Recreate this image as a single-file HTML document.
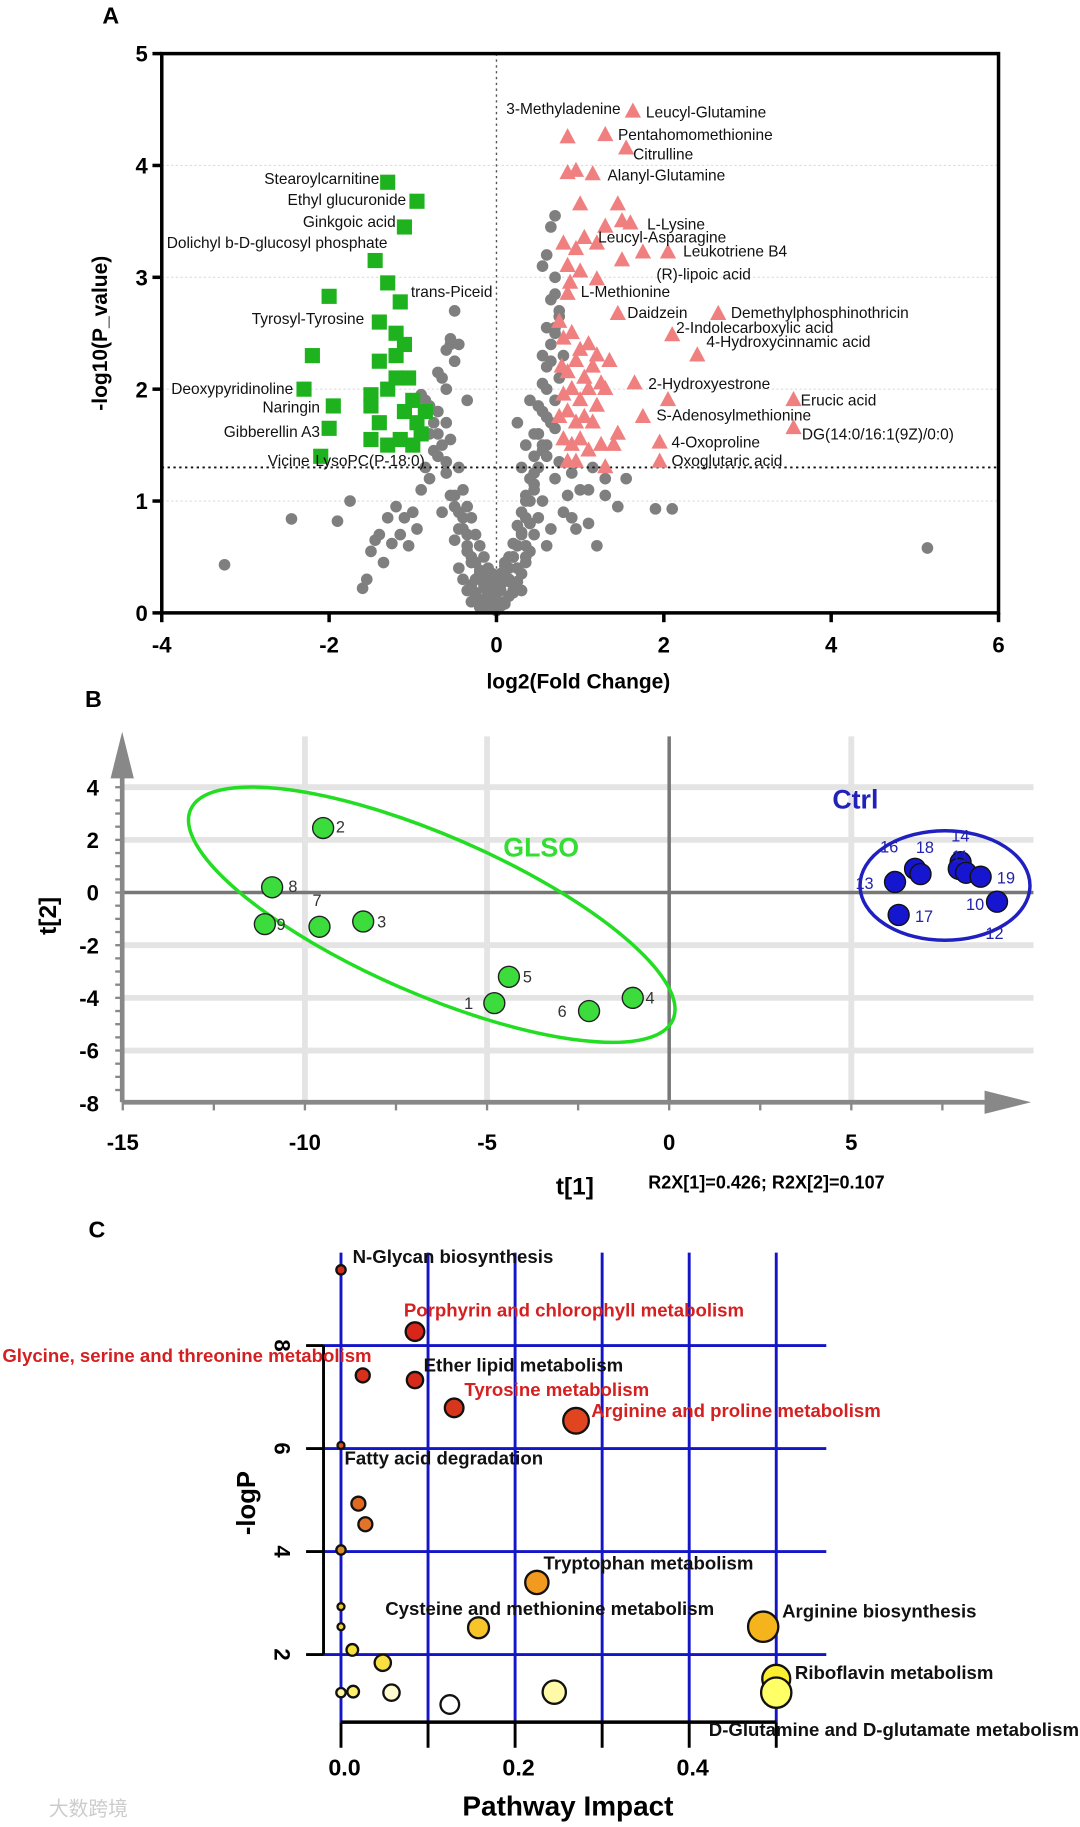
<!DOCTYPE html>
<html><head><meta charset="utf-8"><style>
html,body{margin:0;padding:0;background:#fff}
svg{display:block}
text{font-family:"Liberation Sans",sans-serif}
</style></head><body>
<svg id="fig" width="1080" height="1827" viewBox="0 0 928 1568" preserveAspectRatio="none" xmlns="http://www.w3.org/2000/svg">
<rect width="928" height="1568" fill="#fff"/>
<g id="A"></g>
<g id="B"></g>
<g id="C"></g>
</svg>
<script>
// ---------- Panel A data ----------
const grayX=[-3.25,-2.45,-1.9,-1.75,-1.6,-1.55,-1.5,-1.45,-1.4,-1.35,-1.3,-1.25,-1.2,-1.15,-1.1,-1.05,-1.0,-0.95,-0.9,-0.85,-0.8,-0.75,-0.7,-0.65,-0.6,-0.55,-0.5,-0.45,-0.4,-0.35,-0.3,-0.25,-0.2,-0.15,-0.1,-0.05,0,0.05,0.1,0.15,0.2,0.25,0.3,0.35,0.4,0.45,0.5,0.55,0.6,0.65,0.7,0.75,0.8,0.85,0.9,0.95,1.0,1.1,1.2,1.3,1.45,1.55,1.9,2.1,5.15,
-0.6,-0.7,-0.55,-0.45,-0.5,-0.4,-0.35,-0.3,-0.25,-0.2,-0.15,-0.1,-0.05,0.05,0.1,0.15,0.2,0.25,0.3,0.35,0.4,0.45,0.5,0.55,0.6,0.65,0.7,0.75,
-0.8,-0.7,-0.6,-0.5,-0.45,-0.4,-0.35,-0.3,-0.25,-0.2,-0.15,-0.1,-0.05,0.0,0.05,0.1,0.15,0.2,0.25,0.3,0.35,0.4,0.45,0.5,0.55,0.6,
-0.3,-0.2,-0.1,0,0.1,0.2,0.3,-0.25,-0.15,-0.05,0.05,0.15,0.25,-0.35,0.35,-0.4,0.4,
0.3,0.35,0.45,0.5,0.55,0.6,0.65,0.7,0.75,-0.65,-0.55,-0.5,-0.45,-0.35,0.25,0.4,0.55,0.65,0.7,
0.55,0.6,0.65,0.7,-0.55,-0.6,-0.7,-0.8,0.6,0.7,1.15,0.9,1.1,1.3,
-0.25,-0.15,-0.05,0.05,0.15,0.25,0.35,-0.3,-0.2,-0.1,0.0,0.1,0.2,0.3,0.4,0.45,0.5,0.55,-0.35,-0.45,-0.5,-0.6,0.35,0.45,0.6,0.65,0.7,0.75,0.8,-0.65,-0.75,-0.85,-0.9,0.5,0.6,0.7];
const grayY=[0.43,0.84,0.82,1.0,0.22,0.3,0.55,0.65,0.7,0.45,0.85,0.62,0.95,0.7,0.85,0.6,0.9,0.75,1.1,1.3,1.2,1.45,1.6,0.9,1.7,1.05,0.65,0.4,0.3,0.2,0.25,0.15,0.1,0.12,0.05,0.08,0.02,0.06,0.1,0.15,0.2,0.28,0.35,0.45,0.55,0.7,0.85,1.0,0.6,0.75,1.2,1.35,0.9,1.05,0.85,0.75,1.1,0.8,0.6,1.2,0.95,1.2,0.93,0.93,0.58,
2.0,1.8,1.55,1.3,2.25,1.1,0.95,0.85,0.7,0.6,0.5,0.4,0.3,0.35,0.45,0.5,0.62,0.78,0.9,1.05,1.2,1.4,1.6,1.8,2.0,2.25,2.5,2.65,
1.6,1.4,1.25,1.05,0.9,0.75,0.6,0.5,0.45,0.35,0.3,0.25,0.2,0.22,0.25,0.32,0.4,0.5,0.6,0.72,0.85,1.0,1.15,1.3,1.5,1.75,
0.1,0.05,0.15,0.12,0.08,0.18,0.2,0.3,0.25,0.35,0.3,0.28,0.4,0.55,0.5,0.85,0.8,
1.3,1.5,1.6,1.85,2.05,2.2,2.4,2.55,2.7,2.1,2.4,2.7,2.4,1.9,1.7,1.9,2.3,2.8,3.0,
3.1,3.2,3.45,3.55,2.45,2.35,2.15,1.85,2.55,2.85,1.3,1.25,1.1,1.05,
0.18,0.22,0.25,0.2,0.3,0.4,0.6,0.45,0.38,0.35,0.32,0.42,0.5,0.7,0.8,1.1,1.3,1.45,0.7,0.75,0.95,1.35,1.0,1.25,1.5,1.7,1.9,2.1,2.3,1.5,1.7,1.9,1.95,1.6,1.4,1.65];
const downX=[-1.3,-0.95,-1.1,-1.45,-1.3,-1.15,-2.0,-1.4,-1.2,-2.2,-2.3,-1.95,-2.0,-2.1,-1.5,-1.4,-1.5,-1.4,-1.2,-1.05,-1.0,-0.95,-1.3,-1.15,-0.85,-1.0,-1.3,-1.5,-1.1,-1.2,-0.9,-1.1];
const downY=[3.85,3.68,3.45,3.15,2.95,2.78,2.83,2.6,2.5,2.3,2.0,1.85,1.65,1.4,1.55,1.7,1.95,2.25,2.3,2.1,1.9,1.7,1.5,1.55,1.8,1.5,2.0,1.85,2.4,2.1,1.6,1.8];
const upX=[1.63,0.85,1.3,1.55,0.85,1.15,0.95,1.0,1.45,1.5,1.3,1.6,1.05,0.8,0.95,1.2,1.75,2.05,1.5,0.85,1.0,1.2,0.88,0.85,1.45,2.65,2.1,2.4,1.65,2.05,3.55,1.75,3.55,1.95,1.95,
0.75,0.8,0.9,1.0,1.1,1.2,0.78,0.85,0.95,1.05,1.15,1.25,1.35,0.8,0.9,1.0,1.1,1.2,1.3,0.75,0.85,0.95,1.05,1.15,1.45,0.8,0.9,1.0,1.1,1.25,1.4,0.85,0.95,1.3];
const upY=[4.48,4.25,4.27,4.15,3.93,3.92,3.95,3.65,3.65,3.5,3.45,3.48,3.35,3.3,3.25,3.3,3.22,3.22,3.15,3.1,3.05,2.98,2.95,2.85,2.67,2.67,2.48,2.3,2.05,1.9,1.9,1.75,1.65,1.52,1.35,
2.6,2.45,2.5,2.35,2.4,2.3,2.2,2.15,2.25,2.1,2.2,2.05,2.25,1.95,2.0,1.9,2.0,1.85,2.0,1.75,1.8,1.7,1.75,1.7,1.6,1.55,1.5,1.55,1.45,1.5,1.5,1.35,1.35,1.3];
const upLabels=[["Leucyl-Glutamine",555,97],["3-Methyladenine",435,94],["Pentahomomethionine",531,116],["Citrulline",544,133],["Alanyl-Glutamine",522,151],["L-Lysine",556,193],["Leucyl-Asparagine",514,204],["Leukotriene B4",587,216],["(R)-lipoic acid",564,236],["L-Methionine",499,251],["Daidzein",539,269],["Demethylphosphinothricin",628,269],["2-Indolecarboxylic acid",581,282],["4-Hydroxycinnamic acid",607,294],["2-Hydroxyestrone",557,330],["Erucic acid",688,344],["S-Adenosylmethionine",564,357],["DG(14:0/16:1(9Z)/0:0)",689,373],["4-Oxoproline",577,380],["Oxoglutaric acid",577,396],["trans-Piceid",353,251],["LysoPC(P-18:0)",271,396]];
const downLabels=[["Stearoylcarnitine",326,154],["Ethyl glucuronide",349,172],["Ginkgoic acid",340,191],["Dolichyl b-D-glucosyl phosphate",333,209],["Tyrosyl-Tyrosine",313,274],["Deoxypyridinoline",252,334],["Naringin",275,350],["Gibberellin A3",275,371],["Vicine",266,396]];
const aXTicks=[-4,-2,0,2,4,6];
const aYTicks=[0,1,2,3,4,5];
// ---------- Panel B data ----------
const glsoIds=["2","8","9","7","3","5","1","6","4"];
const glsoT1=[-9.5,-10.9,-11.1,-9.6,-8.4,-4.4,-4.8,-2.2,-1.0];
const glsoT2=[2.45,0.2,-1.2,-1.3,-1.1,-3.2,-4.2,-4.5,-4.0];
const ctrlIds=["13","16","18","14","11","10","19","12","17"];
const ctrlT1=[6.2,6.75,6.9,8.0,7.95,8.15,8.55,9.0,6.3];
const ctrlT2=[0.4,0.9,0.7,1.15,0.9,0.75,0.6,-0.35,-0.85];
const bXTicks=[-15,-10,-5,0,5];
const bYTicks=[4,2,0,-2,-4,-6,-8];
// ---------- Panel C data ----------
const pwNames=["N-Glycan biosynthesis","Porphyrin and chlorophyll metabolism","Glycine, serine and threonine metabolism","Ether lipid metabolism","Tyrosine metabolism","Arginine and proline metabolism","Fatty acid degradation","","","","Tryptophan metabolism","","","Cysteine and methionine metabolism","Arginine biosynthesis","","","","","","","","Riboflavin metabolism","D-Glutamine and D-glutamate metabolism"];
const pwImpact=[0.0,0.085,0.025,0.085,0.13,0.27,0.0,0.02,0.028,0.0,0.225,0.0,0.0,0.158,0.485,0.013,0.048,0.0,0.014,0.058,0.125,0.245,0.5,0.5];
const pwLogP=[9.47,8.27,7.42,7.33,6.79,6.54,6.06,4.93,4.53,4.03,3.4,2.93,2.54,2.52,2.54,2.09,1.84,1.26,1.28,1.26,1.03,1.27,1.53,1.26];
const pwSize=[4,8,6,7,8,11,3,6,6,4,10,3,3,9,13,5,7,4,5,7,8,10,12,13];
const pwColor=["#d42a1a","#d9261a","#d9301c","#d52c1a","#d8361c","#e0451f","#d9531e","#e06a22","#e2742a","#d98b2d","#f29a1f","#f2c72a","#f2d43a","#f7c52a","#f5b31c","#f5e23a","#f7e040","#fff6a0","#fff06a","#fffbd0","#ffffff","#fffaa8","#fbef30","#ffff66"];
const cXTicks=[0.0,0.2,0.4];
const cYTicks=[2,4,6,8];
</script>
<script>
const NS="http://www.w3.org/2000/svg";
function mk(parent,tag,attrs,txt){const e=document.createElementNS(NS,tag);for(const k in attrs)e.setAttribute(k,attrs[k]);if(txt!==undefined)e.textContent=txt;parent.appendChild(e);return e;}
// ===== Panel A =====
const A=document.getElementById('A');
const ax=v=>139+(v+4)*(858-139)/10, ay=v=>526-v*96;
let t=mk(A,'text',{x:88,y:20,'font-size':20,'font-weight':'bold'},'A');


aYTicks.forEach(v=>{if(v>0&&v<5){mk(A,'line',{x1:139,x2:858,y1:ay(v),y2:ay(v),stroke:'#ddd','stroke-dasharray':'2,2'});}});
let ln=mk(A,'line',{x1:ax(0),x2:ax(0),y1:46,y2:526,stroke:'#555','stroke-dasharray':'2,3','stroke-width':1.2});


for(let i=0;i<grayX.length;i++){const c=mk(A,'circle',{cx:ax(grayX[i]),cy:ay(grayY[i]),r:5,fill:'#7f7f7f'});

}
ln=mk(A,'line',{x1:139,x2:858,y1:ay(1.3),y2:ay(1.3),stroke:'#111','stroke-dasharray':'2,3','stroke-width':1.6});


for(let i=0;i<downX.length;i++){const r=mk(A,'rect',{x:ax(downX[i])-6.5,y:ay(downY[i])-6.5,width:13,height:13,fill:'#1fb21f'});

}
for(let i=0;i<upX.length;i++){const x=ax(upX[i]),y=ay(upY[i]);const p=mk(A,'polygon',{points:`${x},${y-8} ${x-7},${y+5} ${x+7},${y+5}`,fill:'#f08080'});

}
upLabels.forEach(l=>{const e=mk(A,'text',{x:l[1],y:l[2]+4,'font-size':13.3,fill:'#111'},l[0]);

});
downLabels.forEach(l=>{const e=mk(A,'text',{x:l[1],y:l[2]+4,'font-size':13.3,fill:'#111','text-anchor':'end'},l[0]);

});
let fr=mk(A,'rect',{x:139,y:46,width:719,height:480,fill:'none',stroke:'#000','stroke-width':3});


aXTicks.forEach(v=>{mk(A,'line',{x1:ax(v),x2:ax(v),y1:526,y2:534,stroke:'#000','stroke-width':3});
const e=mk(A,'text',{x:ax(v),y:560,'font-size':19,'font-weight':'bold','text-anchor':'middle'},String(v));

});
aYTicks.forEach(v=>{mk(A,'line',{x1:131,x2:139,y1:ay(v),y2:ay(v),stroke:'#000','stroke-width':3});
const e=mk(A,'text',{x:127,y:ay(v)+7,'font-size':19,'font-weight':'bold','text-anchor':'end'},String(v));

});
t=mk(A,'text',{x:497,y:591,'font-size':18,'font-weight':'bold','text-anchor':'middle'},'log2(Fold Change)');


t=mk(A,'text',{x:0,y:0,'font-size':18,'font-weight':'bold','text-anchor':'middle',transform:'translate(92,286) rotate(-90)'},'-log10(P_value)');


// ===== Panel B =====
const B=document.getElementById('B');
const bx=v=>575+v*31.3, by=v=>766-v*22.6;
t=mk(B,'text',{x:73,y:607,'font-size':20,'font-weight':'bold'},'B');


bYTicks.forEach(v=>{if(v!==0&&v!==-8)mk(B,'line',{x1:105,x2:888,y1:by(v),y2:by(v),stroke:'#e4e4e4','stroke-width':5});});
[-10,-5,5].forEach(v=>mk(B,'line',{x1:bx(v),x2:bx(v),y1:632,y2:946,stroke:'#e4e4e4','stroke-width':5}));
mk(B,'line',{x1:105,x2:888,y1:by(0),y2:by(0),stroke:'#777','stroke-width':3});
mk(B,'line',{x1:bx(0),x2:bx(0),y1:632,y2:946,stroke:'#777','stroke-width':3});
mk(B,'line',{x1:105,x2:850,y1:946,y2:946,stroke:'#888','stroke-width':4});
mk(B,'polygon',{points:'886,946 846,936 846,956',fill:'#888'});
mk(B,'line',{x1:105,x2:105,y1:946,y2:665,stroke:'#888','stroke-width':4});
mk(B,'polygon',{points:'105,628 95,668 115,668',fill:'#888'});
for(let y=by(4);y<=946;y+=by(0)-by(0.5)){mk(B,'line',{x1:99,x2:105,y1:y,y2:y,stroke:'#888','stroke-width':2});}
for(let v=-15;v<=8;v+=2.5){mk(B,'line',{x1:bx(v),x2:bx(v),y1:946,y2:953,stroke:'#888','stroke-width':2});}
let el=mk(B,'ellipse',{cx:371,cy:785,rx:226,ry:68,fill:'none',stroke:'#22dd22','stroke-width':3,transform:'rotate(23.5 371 785)'});


el=mk(B,'ellipse',{cx:812,cy:760,rx:73,ry:47,fill:'none',stroke:'#2020c0','stroke-width':3});


const gOff={"2":[11,4],"8":[14,4],"9":[10,5],"7":[-6,-18],"3":[12,5],"5":[12,5],"1":[-26,5],"6":[-27,5],"4":[11,5]};
for(let i=0;i<glsoT1.length;i++){const x=bx(glsoT1[i]),y=by(glsoT2[i]);
const c=mk(B,'circle',{cx:x,cy:y,r:9,fill:'#3ddc3d',stroke:'#222','stroke-width':1.2});


const o=gOff[glsoIds[i]]||[11,5];
const e=mk(B,'text',{x:x+o[0],y:y+o[1],'font-size':14,fill:'#333'},glsoIds[i]);

}
const cOff={"13":[-34,6],"16":[-30,-14],"18":[-4,-18],"14":[-8,-18],"11":[-6,-6],"10":[0,32],"19":[14,6],"12":[-10,32],"17":[14,6]};
for(let i=0;i<ctrlT1.length;i++){const x=bx(ctrlT1[i]),y=by(ctrlT2[i]);
const c=mk(B,'circle',{cx:x,cy:y,r:9,fill:'#1616d0',stroke:'#111','stroke-width':1.2});


const o=cOff[ctrlIds[i]]||[11,5];
const e=mk(B,'text',{x:x+o[0],y:y+o[1],'font-size':14,fill:'#2222aa'},ctrlIds[i]);

}
t=mk(B,'text',{x:465,y:735,'font-size':23,'font-weight':'bold',fill:'#33dd33','text-anchor':'middle'},'GLSO');


t=mk(B,'text',{x:735,y:694,'font-size':23,'font-weight':'bold',fill:'#2222bb','text-anchor':'middle'},'Ctrl');


bXTicks.forEach(v=>{const e=mk(B,'text',{x:bx(v),y:987,'font-size':19,'font-weight':'bold','text-anchor':'middle'},String(v));

});
bYTicks.forEach(v=>{const e=mk(B,'text',{x:85,y:by(v)+7,'font-size':19,'font-weight':'bold','text-anchor':'end'},String(v));

});
t=mk(B,'text',{x:494,y:1025,'font-size':21,'font-weight':'bold','text-anchor':'middle'},'t[1]');


t=mk(B,'text',{x:557,y:1020,'font-size':15.5,'font-weight':'bold'},'R2X[1]=0.426; R2X[2]=0.107');


t=mk(B,'text',{x:0,y:0,'font-size':21,'font-weight':'bold','text-anchor':'middle',transform:'translate(48,786) rotate(-90)'},'t[2]');


// ===== Panel C =====
const C=document.getElementById('C');
const cx=v=>293+v*748, cy=v=>1420-(v-2)*44.2;
t=mk(C,'text',{x:76,y:1062,'font-size':20,'font-weight':'bold'},'C');


for(let v=0;v<=0.501;v+=0.1){mk(C,'line',{x1:cx(v),x2:cx(v),y1:1075,y2:1478,stroke:'#1515c8','stroke-width':2.5});
mk(C,'line',{x1:cx(v),x2:cx(v),y1:1478,y2:1500,stroke:'#000','stroke-width':2.5});}
cYTicks.forEach(v=>{mk(C,'line',{x1:278,x2:710,y1:cy(v),y2:cy(v),stroke:'#1515c8','stroke-width':2.5});
mk(C,'line',{x1:263,x2:278,y1:cy(v),y2:cy(v),stroke:'#000','stroke-width':2.5});
const e=mk(C,'text',{x:0,y:0,'font-size':19,'font-weight':'bold','text-anchor':'middle',transform:`translate(236,${cy(v)}) rotate(90)`},String(v));

});
mk(C,'line',{x1:278,x2:278,y1:cy(8),y2:cy(2),stroke:'#000','stroke-width':2.5});
mk(C,'line',{x1:293,x2:cx(0.5),y1:1478,y2:1478,stroke:'#000','stroke-width':3});
const red=new Set([1,2,4,5]);
const lblPos={0:[303,1079],1:[347,1125],2:[2,1164],3:[364,1172],4:[399,1193],5:[508,1211],6:[296,1252],10:[467,1342],13:[331,1381],14:[672,1383],22:[683,1436],23:[609,1485]};
for(let i=0;i<pwImpact.length;i++){const c=mk(C,'circle',{cx:cx(pwImpact[i]),cy:cy(pwLogP[i]),r:pwSize[i],fill:pwColor[i],stroke:'#111','stroke-width':2});


if(pwNames[i]&&lblPos[i]){const p=lblPos[i];
const e=mk(C,'text',{x:p[0],y:p[1]+5,'font-size':16,'font-weight':'bold',fill:red.has(i)?'#d42020':'#111'},pwNames[i]);

}}
cXTicks.forEach(v=>{const e=mk(C,'text',{x:cx(v)+3,y:1524,'font-size':20,'font-weight':'bold','text-anchor':'middle'},v.toFixed(1));

});
t=mk(C,'text',{x:488,y:1558,'font-size':24,'font-weight':'bold','text-anchor':'middle'},'Pathway Impact');


t=mk(C,'text',{x:0,y:0,'font-size':22,'font-weight':'bold','text-anchor':'middle',transform:'translate(219,1290) rotate(-90)'},'-logP');


t=mk(C,'text',{x:42,y:1558,'font-size':17,fill:'#ccc','font-family':'Noto Sans CJK SC, sans-serif'},'大数跨境');


</script>
</body></html>
